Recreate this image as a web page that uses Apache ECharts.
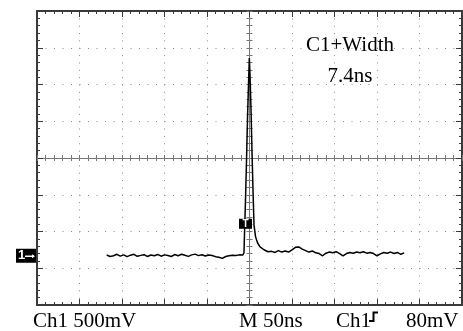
<!DOCTYPE html>
<html><head><meta charset="utf-8">
<script src="https://cdn.jsdelivr.net/npm/echarts@6/dist/echarts.min.js"></script>
<style>html,body{margin:0;padding:0;background:#fff}#c{width:463px;height:331px}</style>
</head><body><div id="c"></div>
<script>
// ---- data (time in ns, Ch1 volts relative to ground) ----
const timeNs = [
  -168,-164,-160,-156,-152,-148,-144,-140,-136,-132,-128,-124,-120,-116,-112,-108,-104,-100,-96,-92,
  -88,-84,-80,-76,-72,-68,-64,-60,-56,-52,-48,-44,-40,-36,-32,-28,-24,-20,-16,-12,-8,
  -6.5,-5.9,-4.7,-3.5,-2.4,-1.2,-0.2,0.6,1.8,2.9,4.1,5.3,7.1,9.4,12.4,17,21.8,
  26,30,34,38,42,46,50,54,58,62,66,70,74,78,82,86,90,94,98,102,106,110,114,118,122,126,130,134,
  138,142,146,150,154,158,162,166,170,174,178,182
];
const ch1Volts = [
  0.01,-0.01,0.0,0.02,-0.005,0.012,-0.012,0.008,0.02,-0.008,0.005,0.015,-0.01,0.01,0.0,0.018,-0.006,0.012,0.004,-0.01,
  0.016,0.0,0.02,0.006,-0.008,0.012,0.022,0.002,0.014,-0.004,0.01,0.004,-0.012,-0.02,-0.036,-0.01,0.0,0.008,0.004,0.012,0.01,
  0.04,0.285,0.76,1.30,1.845,2.32,2.69,2.46,1.98,1.435,0.90,0.42,0.26,0.177,0.122,0.082,0.054,
  0.06,0.045,0.07,0.05,0.065,0.05,0.08,0.115,0.12,0.09,0.07,0.05,0.065,0.04,0.03,0.0,0.035,0.05,0.04,0.055,0.03,0.0,0.03,0.045,0.035,0.05,0.04,0.055,
  0.035,0.045,0.03,0.0,0.025,0.045,0.035,0.05,0.03,0.045,0.02,0.04
];
const voltsPerDiv = 0.5;
const nsPerDiv = 50;
const groundDiv = -2.66;          // Ch1 ground position (divisions from centre)
const triggerNs = -4.7;           // trigger marker position
const triggerVolts = 0.435;
const bottomLabels = ['Ch1 500mV', 'M 50ns', 'Ch1', '80mV'];
const measLabels = ['C1+Width', '7.4ns'];

const traceData = timeNs.map((t, i) => [t / nsPerDiv, ch1Volts[i] / voltsPerDiv + groundDiv]);

const chart = echarts.init(document.getElementById('c'), null, {renderer: 'canvas'});
const border = '#3a3a3a', gridDot = '#8a8a8a', centre = '#777';

function xa(pos, o) {
  return Object.assign({
    type: 'value', min: -5, max: 5, interval: 1, position: pos,
    axisLabel: {show: false}, splitLine: {show: false},
    axisLine: {onZero: false, lineStyle: {color: border, width: 2}},
    axisTick: {inside: true, length: 6, lineStyle: {color: border, width: 1}},
    minorTick: {show: true, splitNumber: 5, length: 3, lineStyle: {color: border, width: 1}}
  }, o);
}
function ya(pos, o) {
  return Object.assign({
    type: 'value', min: -4, max: 4, interval: 1, position: pos,
    axisLabel: {show: false}, splitLine: {show: false},
    axisLine: {onZero: false, lineStyle: {color: border, width: 2}},
    axisTick: {inside: true, length: 6, lineStyle: {color: border, width: 1}},
    minorTick: {show: true, splitNumber: 5, length: 3, lineStyle: {color: border, width: 1}}
  }, o);
}
const cTick = {inside: true, length: 3, lineStyle: {color: centre, width: 1}};
const cMinor = {show: true, splitNumber: 5, length: 3, lineStyle: {color: centre, width: 1}};

const option = {
  animation: false,
  backgroundColor: '#fff',
  grid: {left: 37, right: 1, top: 11, bottom: 26},
  xAxis: [
    xa('bottom', {splitLine: {show: true, lineStyle: {color: gridDot, width: 1, type: [1, 6.35]}}}),
    xa('top'),
    xa('bottom', {axisLine: {onZero: true, onZeroAxisIndex: 0, lineStyle: {color: centre, width: 1}}, axisTick: cTick, minorTick: cMinor}),
    xa('bottom', {axisLine: {onZero: true, onZeroAxisIndex: 0, lineStyle: {color: centre, width: 1}}, axisTick: Object.assign({}, cTick, {inside: false}), minorTick: cMinor})
  ],
  yAxis: [
    ya('left', {splitLine: {show: true, lineStyle: {color: gridDot, width: 1, type: [1, 7.5]}}}),
    ya('right'),
    ya('left', {axisLine: {onZero: true, onZeroAxisIndex: 0, lineStyle: {color: centre, width: 1}}, axisTick: cTick, minorTick: cMinor}),
    ya('left', {axisLine: {onZero: true, onZeroAxisIndex: 0, lineStyle: {color: centre, width: 1}}, axisTick: Object.assign({}, cTick, {inside: false}), minorTick: cMinor})
  ],
  series: [{
    type: 'line', xAxisIndex: 0, yAxisIndex: 0, data: traceData,
    showSymbol: false, symbol: 'none', smooth: false,
    lineStyle: {color: '#000', width: 1.5}, z: 5
  }]
};
chart.setOption(option);

const gp = chart.convertToPixel({xAxisIndex: 0, yAxisIndex: 0}, [-5, groundDiv]);
const tp = chart.convertToPixel({xAxisIndex: 0, yAxisIndex: 0}, [triggerNs / nsPerDiv, triggerVolts / voltsPerDiv + groundDiv]);
const font = '21px "Liberation Serif", "Times New Roman", serif';

chart.setOption({
  graphic: [
    // measurement readout
    {type: 'text', x: 350, y: 45, z: 10, style: {text: measLabels[0], font: font, fill: '#000', align: 'center', verticalAlign: 'middle'}},
    {type: 'text', x: 350, y: 76, z: 10, style: {text: measLabels[1], font: font, fill: '#000', align: 'center', verticalAlign: 'middle'}},
    // bottom status line
    {type: 'text', x: 33, y: 321, style: {text: bottomLabels[0], font: font, fill: '#000', verticalAlign: 'middle'}},
    {type: 'text', x: 239, y: 321, style: {text: bottomLabels[1], font: font, fill: '#000', verticalAlign: 'middle'}},
    {type: 'text', x: 336, y: 321, style: {text: bottomLabels[2], font: font, fill: '#000', verticalAlign: 'middle'}},
    {type: 'text', x: 406, y: 321, style: {text: bottomLabels[3], font: font, fill: '#000', verticalAlign: 'middle'}},
    // trigger slope icon
    {type: 'polyline', shape: {points: [[369, 321], [373.5, 321], [373.5, 312.5], [378, 312.5]]}, style: {stroke: '#000', lineWidth: 2, fill: null}},
    // ground marker "1"
    {type: 'group', x: gp[0], y: gp[1], children: [
      {type: 'rect', z: 100, shape: {x: -21, y: -7, width: 20, height: 14}, style: {fill: '#000'}},
      {type: 'text', z: 101, x: -19, y: 0, style: {text: '1', font: 'bold 13px "Liberation Sans", Arial, sans-serif', fill: '#fff', verticalAlign: 'middle'}},
      {type: 'line', z: 101, shape: {x1: -12, y1: 0.5, x2: -3, y2: 0.5}, style: {stroke: '#fff', lineWidth: 1.5}},
      {type: 'polygon', z: 101, shape: {points: [[-2, 0.5], [-5, -1.5], [-5, 2.5]]}, style: {fill: '#fff'}}
    ]},
    // trigger position marker "T"
    {type: 'group', x: tp[0], y: tp[1], children: [
      {type: 'rect', z: 100, shape: {x: -6.5, y: -5, width: 13, height: 10}, style: {fill: '#000'}},
      {type: 'text', z: 101, x: 0, y: 0.5, style: {text: 'T', font: 'bold 10px "Liberation Sans", Arial, sans-serif', fill: '#fff', align: 'center', verticalAlign: 'middle'}}
    ]}
  ]
});
</script></body></html>
